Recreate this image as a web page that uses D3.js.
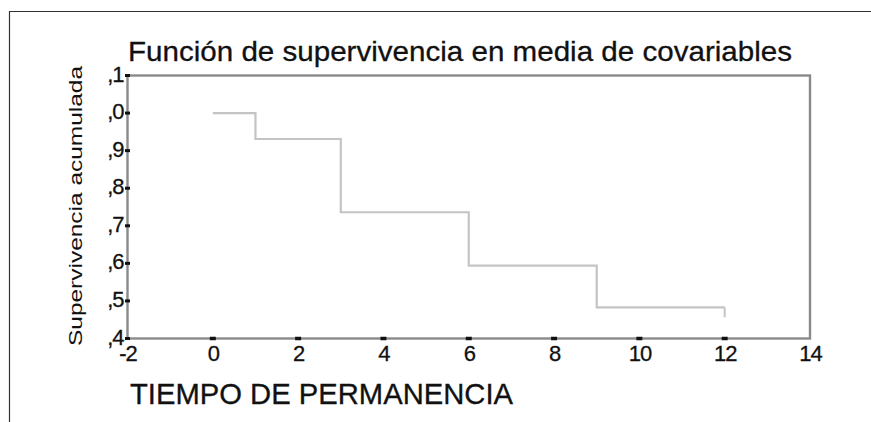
<!DOCTYPE html>
<html>
<head>
<meta charset="utf-8">
<script src="https://cdn.jsdelivr.net/npm/d3@7.9.0/dist/d3.min.js"></script>
<style>
  body { margin: 0; background: #fff; }
  svg { display: block; }
  text { font-family: Arial, "Liberation Sans", sans-serif; fill: #111; }
</style>
</head>
<body>
<svg id="chart" width="871" height="422"></svg>
<script>
const title = 'Función de supervivencia en media de covariables';
const xTitle = 'TIEMPO DE PERMANENCIA';
const yTitle = 'Supervivencia acumulada';

// time points and cumulative survival at mean of covariates
const times = [0, 1, 3, 6, 9, 12];
const survival = [1.0, 0.931, 0.736, 0.594, 0.483, 0.483];
const censored = [12];

const xTicks = [-2, 0, 2, 4, 6, 8, 10, 12, 14];
const yTicks = [0.4, 0.5, 0.6, 0.7, 0.8, 0.9, 1.0, 1.1];
const yTickLabels = [',4', ',5', ',6', ',7', ',8', ',9', ',0', ',1'];

const svg = d3.select('#chart');

const x = d3.scaleLinear().domain([-2, 14]).range([127.5, 810]);
const y = d3.scaleLinear().domain([0.4, 1.1]).range([338.5, 75.5]);

// outer frame (top + left only, as in the scan)
svg.append('path')
  .attr('d', 'M9.5,422 V11.5 H871')
  .attr('fill', 'none')
  .attr('stroke', '#333')
  .attr('stroke-width', 1.2);

// plot frame
svg.append('rect')
  .attr('x', x(-2)).attr('y', y(1.1))
  .attr('width', x(14) - x(-2)).attr('height', y(0.4) - y(1.1))
  .attr('fill', 'none')
  .attr('stroke', '#8a8a8a')
  .attr('stroke-width', 2.4);

// axes: labels from d3 axes, ticks drawn as small dark marks
const xAxis = svg.append('g')
  .attr('transform', `translate(0,${y(0.4)})`)
  .call(d3.axisBottom(x).tickValues(xTicks)
    .tickFormat(d => String(d)).tickSize(0).tickPadding(7));
xAxis.select('.domain').remove();
xAxis.selectAll('text')
  .attr('font-size', 22)
  .attr('letter-spacing', -1)
  .attr('stroke', '#111').attr('stroke-width', 0.3)
  .attr('fill', '#111');

const yAxis = svg.append('g')
  .attr('transform', `translate(${x(-2)},0)`)
  .call(d3.axisLeft(y).tickValues(yTicks)
    .tickFormat((d, i) => yTickLabels[i]).tickSize(0).tickPadding(4));
yAxis.select('.domain').remove();
yAxis.selectAll('text')
  .attr('font-size', 22)
  .attr('letter-spacing', -1)
  .attr('dy', '0.25em')
  .attr('stroke', '#111').attr('stroke-width', 0.3)
  .attr('fill', '#111');

svg.append('g').selectAll('line')
  .data(xTicks.slice(1, -1))
  .join('line')
  .attr('x1', d => x(d) - 3).attr('x2', d => x(d) + 3)
  .attr('y1', y(0.4)).attr('y2', y(0.4))
  .attr('stroke', '#111').attr('stroke-width', 3.5);

svg.append('g').selectAll('line')
  .data(yTicks)
  .join('line')
  .attr('x1', x(-2) - 2.5).attr('x2', x(-2) + 2.5)
  .attr('y1', d => y(d)).attr('y2', d => y(d))
  .attr('stroke', '#111').attr('stroke-width', 3);

// survival step function
const pts = times.map((t, i) => [t, survival[i]]);
const line = d3.line()
  .x(d => x(d[0]))
  .y(d => y(d[1]))
  .curve(d3.curveStepAfter);

svg.append('path')
  .datum(pts)
  .attr('d', line)
  .attr('fill', 'none')
  .attr('stroke', '#c4c4c4')
  .attr('stroke-width', 2.2);

// censor marks
svg.append('g').selectAll('line')
  .data(censored)
  .join('line')
  .attr('x1', d => x(d)).attr('x2', d => x(d))
  .attr('y1', d => y(survival[times.indexOf(d)]))
  .attr('y2', d => y(survival[times.indexOf(d)]) + 10)
  .attr('stroke', '#c4c4c4')
  .attr('stroke-width', 2);

// titles
svg.append('text')
  .attr('x', 128).attr('y', 61)
  .attr('font-size', 28)
  .attr('textLength', 664)
  .attr('lengthAdjust', 'spacingAndGlyphs')
  .attr('stroke', '#111').attr('stroke-width', 0.3)
  .text(title);

svg.append('text')
  .attr('x', 130).attr('y', 404)
  .attr('font-size', 29)
  .attr('textLength', 383)
  .attr('lengthAdjust', 'spacingAndGlyphs')
  .attr('stroke', '#111').attr('stroke-width', 0.3)
  .text(xTitle);

svg.append('text')
  .attr('transform', 'translate(82,346) rotate(-90)')
  .attr('font-size', 18)
  .attr('textLength', 280)
  .attr('lengthAdjust', 'spacingAndGlyphs')
  .attr('fill', '#222')
  .text(yTitle);
</script>
</body>
</html>
